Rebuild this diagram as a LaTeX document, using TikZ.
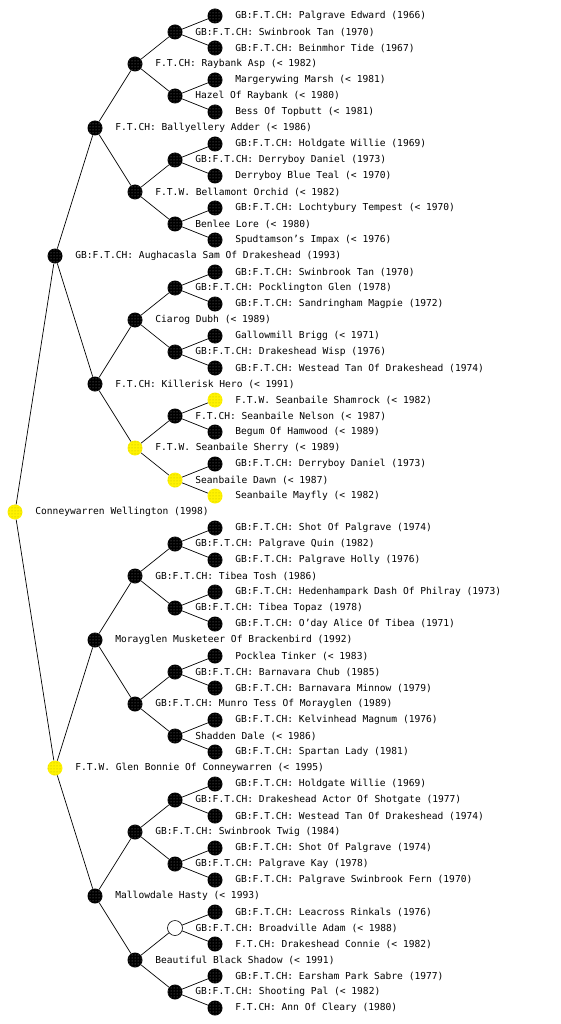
\documentclass[tikz,border=0pt]{standalone}
\usepackage{fontspec}
\setmonofont{DejaVu Sans Mono}
\usetikzlibrary{patterns}

% row / generation / look / name
\def\pedigree{%
  1/5/blk/{GB:F.T.CH: Palgrave Edward (1966)},
  2/4/blk/{GB:F.T.CH: Swinbrook Tan (1970)},
  3/5/blk/{GB:F.T.CH: Beinmhor Tide (1967)},
  4/3/blk/{F.T.CH: Raybank Asp (< 1982)},
  5/5/blk/{Margerywing Marsh (< 1981)},
  6/4/blk/{Hazel Of Raybank (< 1980)},
  7/5/blk/{Bess Of Topbutt (< 1981)},
  8/2/blk/{F.T.CH: Ballyellery Adder (< 1986)},
  9/5/blk/{GB:F.T.CH: Holdgate Willie (1969)},
  10/4/blk/{GB:F.T.CH: Derryboy Daniel (1973)},
  11/5/blk/{Derryboy Blue Teal (< 1970)},
  12/3/blk/{F.T.W. Bellamont Orchid (< 1982)},
  13/5/blk/{GB:F.T.CH: Lochtybury Tempest (< 1970)},
  14/4/blk/{Benlee Lore (< 1980)},
  15/5/blk/{Spudtamson’s Impax (< 1976)},
  16/1/blk/{GB:F.T.CH: Aughacasla Sam Of Drakeshead (1993)},
  17/5/blk/{GB:F.T.CH: Swinbrook Tan (1970)},
  18/4/blk/{GB:F.T.CH: Pocklington Glen (1978)},
  19/5/blk/{GB:F.T.CH: Sandringham Magpie (1972)},
  20/3/blk/{Ciarog Dubh (< 1989)},
  21/5/blk/{Gallowmill Brigg (< 1971)},
  22/4/blk/{GB:F.T.CH: Drakeshead Wisp (1976)},
  23/5/blk/{GB:F.T.CH: Westead Tan Of Drakeshead (1974)},
  24/2/blk/{F.T.CH: Killerisk Hero (< 1991)},
  25/5/ylw/{F.T.W. Seanbaile Shamrock (< 1982)},
  26/4/blk/{F.T.CH: Seanbaile Nelson (< 1987)},
  27/5/blk/{Begum Of Hamwood (< 1989)},
  28/3/ylw/{F.T.W. Seanbaile Sherry (< 1989)},
  29/5/blk/{GB:F.T.CH: Derryboy Daniel (1973)},
  30/4/ylw/{Seanbaile Dawn (< 1987)},
  31/5/ylw/{Seanbaile Mayfly (< 1982)},
  32/0/ylw/{Conneywarren Wellington (1998)},
  33/5/blk/{GB:F.T.CH: Shot Of Palgrave (1974)},
  34/4/blk/{GB:F.T.CH: Palgrave Quin (1982)},
  35/5/blk/{GB:F.T.CH: Palgrave Holly (1976)},
  36/3/blk/{GB:F.T.CH: Tibea Tosh (1986)},
  37/5/blk/{GB:F.T.CH: Hedenhampark Dash Of Philray (1973)},
  38/4/blk/{GB:F.T.CH: Tibea Topaz (1978)},
  39/5/blk/{GB:F.T.CH: O’day Alice Of Tibea (1971)},
  40/2/blk/{Morayglen Musketeer Of Brackenbird (1992)},
  41/5/blk/{Pocklea Tinker (< 1983)},
  42/4/blk/{GB:F.T.CH: Barnavara Chub (1985)},
  43/5/blk/{GB:F.T.CH: Barnavara Minnow (1979)},
  44/3/blk/{GB:F.T.CH: Munro Tess Of Morayglen (1989)},
  45/5/blk/{GB:F.T.CH: Kelvinhead Magnum (1976)},
  46/4/blk/{Shadden Dale (< 1986)},
  47/5/blk/{GB:F.T.CH: Spartan Lady (1981)},
  48/1/ylw/{F.T.W. Glen Bonnie Of Conneywarren (< 1995)},
  49/5/blk/{GB:F.T.CH: Holdgate Willie (1969)},
  50/4/blk/{GB:F.T.CH: Drakeshead Actor Of Shotgate (1977)},
  51/5/blk/{GB:F.T.CH: Westead Tan Of Drakeshead (1974)},
  52/3/blk/{GB:F.T.CH: Swinbrook Twig (1984)},
  53/5/blk/{GB:F.T.CH: Shot Of Palgrave (1974)},
  54/4/blk/{GB:F.T.CH: Palgrave Kay (1978)},
  55/5/blk/{GB:F.T.CH: Palgrave Swinbrook Fern (1970)},
  56/2/blk/{Mallowdale Hasty (< 1993)},
  57/5/blk/{GB:F.T.CH: Leacross Rinkals (1976)},
  58/4/wht/{GB:F.T.CH: Broadville Adam (< 1988)},
  59/5/blk/{F.T.CH: Drakeshead Connie (< 1982)},
  60/3/blk/{Beautiful Black Shadow (< 1991)},
  61/5/blk/{GB:F.T.CH: Earsham Park Sabre (1977)},
  62/4/blk/{GB:F.T.CH: Shooting Pal (< 1982)},
  63/5/blk/{F.T.CH: Ann Of Cleary (1980)}%
}

\begin{document}
\begin{tikzpicture}[
  x=1pt, y=-1pt,
  lab/.style={font=\ttfamily\fontsize{9.6}{10}\selectfont, inner sep=0pt, text=black},
  dog/.style={circle, inner sep=0pt, minimum size=15pt, label={[lab, label distance=12.5pt]right:#1}},
  blk/.style={fill=black, postaction={pattern=dots, pattern color=black!45}},
  ylw/.style={fill=yellow, postaction={pattern=dots, pattern color=yellow!70!black}},
  wht/.style={draw=black, fill=white, line width=0.6pt},
  lnk/.style={black, line width=0.7pt}
]
\useasboundingbox (0,0) rectangle (560,1024);
% dogs
\foreach \k/\lv/\sty/\txt in \pedigree {
  \node[\sty, dog={\txt}] (n\k) at ({15+40*\lv}, {16*\k}) {};
}
% sire / dam links
\foreach \k/\lv/\sty/\txt in \pedigree {
  \ifnum\lv>0
    \pgfmathtruncatemacro\h{2^(5-\lv)}
    \pgfmathtruncatemacro\p{mod(\k+\h,4*\h)==0 ? \k-\h : \k+\h}
    \draw[lnk] (n\k) -- (n\p);
  \fi
}
\end{tikzpicture}
\end{document}
